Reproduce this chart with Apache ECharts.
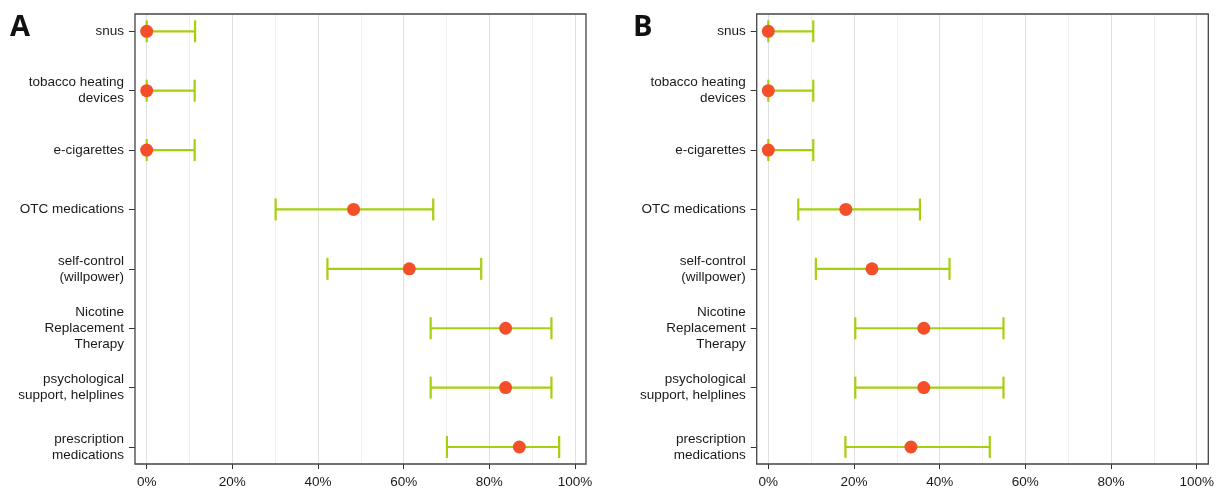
<!DOCTYPE html>
<html>
<head>
<meta charset="utf-8">
<script src="https://cdn.jsdelivr.net/npm/echarts@6/dist/echarts.min.js"></script>
<style>
html,body{margin:0;padding:0;background:#fff;}
#chart{width:1223px;height:490px;}
</style>
</head>
<body>
<div id="chart"></div>
<script>
var categories = ['snus', 'tobacco heating\ndevices', 'e-cigarettes', 'OTC medications', 'self-control\n(willpower)', 'Nicotine\nReplacement\nTherapy', 'psychological\nsupport, helplines', 'prescription\nmedications'];
var panelLabels = ['A', 'B'];
var xTicks = [0, 20, 40, 60, 80, 100];

var pointA = [0, 0, 0, 48.3, 61.3, 83.8, 83.8, 87.0];
var lowA   = [0, 0, 0, 30.1, 42.2, 66.3, 66.3, 70.1];
var highA  = [11.3, 11.2, 11.2, 66.9, 78.1, 94.5, 94.5, 96.3];

var pointB = [0, 0, 0, 18.1, 24.2, 36.3, 36.3, 33.3];
var lowB   = [0, 0, 0, 7.0, 11.1, 20.3, 20.3, 18.0];
var highB  = [10.5, 10.5, 10.5, 35.4, 42.3, 54.9, 54.9, 51.7];

var GREEN = '#a6cf0d';
var RED = '#f54f2a';
var FONT = '"Liberation Sans", Arial, sans-serif';

var chart = echarts.init(document.getElementById('chart'), null, {renderer: 'canvas'});

var grids = [], xAxes = [], yAxes = [], series = [], titles = [];

function addPanel(p, frameLeft, frameWidth, dataLeft, dataWidth, low, high, point, titleLeft) {
  var base = grids.length;
  // 0: frame grid
  grids.push({left: frameLeft, top: 14, width: frameWidth, height: 450, show: true, borderColor: '#444', borderWidth: 1.3, backgroundColor: 'transparent', z: 5});
  // 1: x axis grid (full height split lines)
  grids.push({left: dataLeft, top: 14, width: dataWidth, height: 450, show: false});
  // 2: data grid
  grids.push({left: dataLeft, top: 31.3, width: dataWidth, height: 415.7, show: false});
  // 3: category label grid (axis at frame left)
  grids.push({left: frameLeft, top: 31.3, width: frameWidth, height: 415.7, show: false});

  xAxes.push({gridIndex: base, type: 'value', show: false, min: 0, max: 1});
  yAxes.push({gridIndex: base, type: 'value', show: false, min: 0, max: 1});

  xAxes.push({
    gridIndex: base + 1, type: 'value', min: 0, max: 100, interval: 20,
    axisLine: {show: false},
    axisTick: {show: true, length: 5, lineStyle: {color: '#333', width: 1}},
    axisLabel: {formatter: '{value}%', fontSize: 13.5, color: '#1a1a1a', fontFamily: FONT, margin: 11},
    splitLine: {show: true, lineStyle: {color: '#e0e0e0', width: 1}},
    minorTick: {show: false, splitNumber: 2},
    minorSplitLine: {show: true, lineStyle: {color: '#f0f0f0', width: 1}}
  });
  yAxes.push({gridIndex: base + 1, type: 'value', show: false, min: 0, max: 1});

  xAxes.push({gridIndex: base + 2, type: 'value', min: 0, max: 100, show: false});
  yAxes.push({gridIndex: base + 2, type: 'category', data: categories, inverse: true, boundaryGap: false, show: false});

  xAxes.push({gridIndex: base + 3, type: 'value', min: 0, max: 1, show: false});
  yAxes.push({
    gridIndex: base + 3, type: 'category', data: categories, inverse: true, boundaryGap: false,
    axisLine: {show: false},
    axisTick: {show: true, length: 6, lineStyle: {color: '#333', width: 1}},
    axisLabel: {fontSize: 13.5, color: '#1a1a1a', fontFamily: FONT, lineHeight: 16, margin: 11, interval: 0},
    splitLine: {show: false}
  });

  var ebData = categories.map(function (c, i) { return [low[i], high[i], i]; });
  series.push({
    type: 'custom', xAxisIndex: base + 2, yAxisIndex: base + 2,
    data: ebData,
    encode: {x: [0, 1], y: 2},
    z: 2,
    renderItem: function (params, api) {
      var lo = api.coord([api.value(0), api.value(2)]);
      var hi = api.coord([api.value(1), api.value(2)]);
      var h = 11;
      var st = {stroke: GREEN, lineWidth: 2.2};
      return {
        type: 'group',
        children: [
          {type: 'line', shape: {x1: lo[0], y1: lo[1], x2: hi[0], y2: hi[1]}, style: st},
          {type: 'line', shape: {x1: lo[0], y1: lo[1] - h, x2: lo[0], y2: lo[1] + h}, style: st},
          {type: 'line', shape: {x1: hi[0], y1: hi[1] - h, x2: hi[0], y2: hi[1] + h}, style: st}
        ]
      };
    }
  });
  series.push({
    type: 'scatter', xAxisIndex: base + 2, yAxisIndex: base + 2,
    data: categories.map(function (c, i) { return [point[i], i]; }),
    symbolSize: 13,
    itemStyle: {color: RED, opacity: 1},
    z: 3
  });
  titles.push({text: panelLabels[p], left: titleLeft, top: 8, textStyle: {fontSize: 29, fontWeight: 'bold', color: '#111', fontFamily: '"Open Sans", "Noto Sans", sans-serif'}});
}

addPanel(0, 135, 451, 146.7, 428.3, lowA, highA, pointA, 5);
addPanel(1, 756.7, 451.6, 768.3, 428.4, lowB, highB, pointB, 628);

chart.setOption({
  animation: false,
  backgroundColor: '#fff',
  title: titles,
  grid: grids,
  xAxis: xAxes,
  yAxis: yAxes,
  series: series
});
</script>
</body>
</html>
